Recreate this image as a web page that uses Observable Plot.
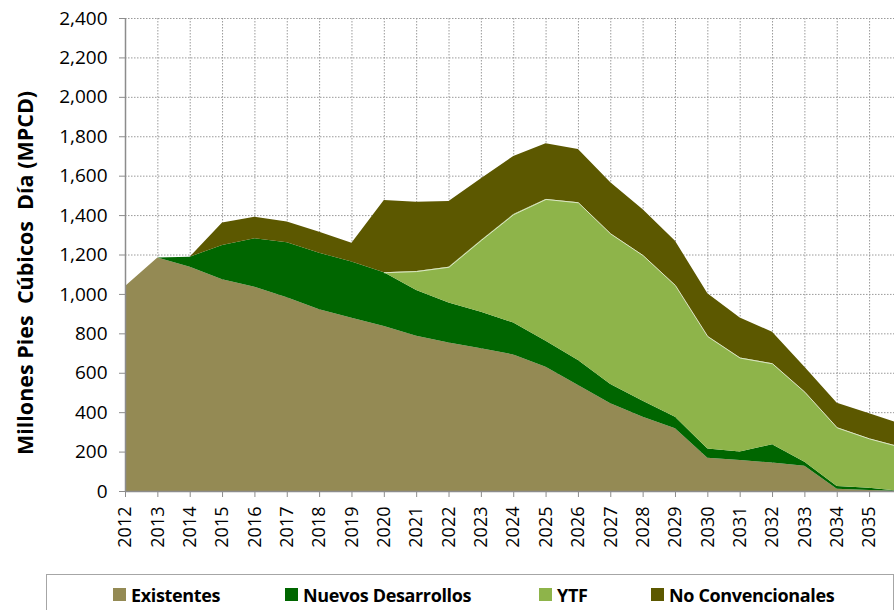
<!DOCTYPE html>
<html>
<head>
<meta charset="utf-8">
<script src="https://cdn.jsdelivr.net/npm/d3@7"></script>
<script src="https://cdn.jsdelivr.net/npm/@observablehq/plot@0.6"></script>
<style>
  body { margin: 0; background: #fff; font-family: "Open Sans", sans-serif; }
  #wrap { position: relative; width: 894px; height: 610px; overflow: hidden; background: #fff; }
  #chart { position: absolute; left: 0; top: 0; }
  #legend { position: absolute; left: 46px; top: 574px; width: 848px; height: 60px;
            border: 1.5px solid #a6a6a6; box-sizing: border-box; background: #fff; }
  .item { position: absolute; top: -1px; display: flex; align-items: center; height: 41px;
          font-family: "Open Sans", sans-serif; font-weight: bold; font-size: 18px; color: #000;
          white-space: nowrap; letter-spacing: -0.35px; }
  .sw { width: 13px; height: 13px; margin-right: 5px; flex: none; }
</style>
</head>
<body>
<div id="wrap">
  <div id="chart"></div>
  <div id="legend"></div>
</div>
<script>
// ---- data ----
const years = [2012,2013,2014,2015,2016,2017,2018,2019,2020,2021,2022,2023,2024,2025,2026,2027,2028,2029,2030,2031,2032,2033,2034,2035,2036];
const existentes = [1040,1185,1138,1074,1037,983,922,879,837,788,754,724,693,631,538,445,377,318,169,157,144,128,12,5,0];
const nuevosDesarrollos = [0,0,51,174,245,279,287,285,273,232,203,186,162,132,127,98,81,59,47,43,93,21,13,12,0];
const ytf = [0,0,0,0,0,0,0,0,0,96,181,364,550,719,800,764,739,668,570,477,411,355,298,250,223];
const noConvencionales = [0,0,0,115,110,105,107,96,367,352,333,313,295,282,270,259,232,225,217,203,160,127,125,127,117];
const seriesNames = ["Existentes", "Nuevos Desarrollos", "YTF", "No Convencionales"];
const seriesColors = ["#948A54", "#006600", "#8EB44A", "#5C5800"];
const xTicks = [2012,2013,2014,2015,2016,2017,2018,2019,2020,2021,2022,2023,2024,2025,2026,2027,2028,2029,2030,2031,2032,2033,2034,2035];
const yTicks = [0,200,400,600,800,1000,1200,1400,1600,1800,2000,2200,2400];
const yLabel = "Millones Pies\u00a0 Cúbicos\u00a0 Día (MPCD)";

// ---- table ----
const seriesValues = [existentes, nuevosDesarrollos, ytf, noConvencionales];
const table = [];
seriesNames.forEach((s, k) => years.forEach((yr, i) => table.push({year: yr, serie: s, value: seriesValues[k][i]})));
const ytfTop = years.map((yr, i) => ({year: yr, top: existentes[i] + nuevosDesarrollos[i] + ytf[i]}))
                    .filter(d => d.year >= 2020);

const chart = Plot.plot({
  width: 894,
  height: 570,
  marginLeft: 125,
  marginRight: 0,
  marginTop: 18,
  marginBottom: 79,
  style: { fontFamily: "'Open Sans', sans-serif", background: "#fff", overflow: "visible" },
  x: { domain: [2012, 2035.77] },
  y: { domain: [0, 2400] },
  color: { domain: seriesNames, range: seriesColors },
  marks: [
    Plot.gridY(yTicks.slice(1), { stroke: "#9a9a9a", strokeOpacity: 1, strokeWidth: 1, strokeDasharray: "1.5,1.5" }),
    Plot.gridX(xTicks.slice(1), { stroke: "#9a9a9a", strokeOpacity: 1, strokeWidth: 1, strokeDasharray: "1.5,1.5" }),
    Plot.areaY(table, { x: "year", y: "value", z: "serie", fill: "serie", order: seriesNames, clip: true, curve: "linear" }),
    Plot.lineY(ytfTop, { x: "year", y: "top", stroke: "#e4edd2", strokeWidth: 0.9, clip: true }),
    Plot.ruleX([2012], { stroke: "#8c8c8c", strokeWidth: 1.5 }),
    Plot.ruleY([0], { stroke: "#8c8c8c", strokeWidth: 1.5 }),
    Plot.axisY({ ticks: yTicks, tickFormat: d3.format(","), tickSize: 6, tickPadding: 12,
                 stroke: "#8c8c8c", fill: "#000", fontSize: 19, label: null }),
    Plot.axisX({ ticks: xTicks, tickFormat: d => String(d), tickSize: 6, tickPadding: 9, tickRotate: -90,
                 stroke: "#8c8c8c", fill: "#000", fontSize: 18, label: null }),
    Plot.text([yLabel], { text: d => d, frameAnchor: "left", rotate: -90, dx: -99, dy: 18,
                          fontSize: 21.5, fontWeight: "bold", fill: "#000", textAnchor: "middle" })
  ]
});
document.getElementById("chart").appendChild(chart);

// ---- legend ----
const legendLeft = [66, 238, 492, 604];
const legend = document.getElementById("legend");
seriesNames.forEach((s, k) => {
  const it = document.createElement("div");
  it.className = "item";
  it.style.left = legendLeft[k] + "px";
  const sw = document.createElement("span");
  sw.className = "sw";
  sw.style.background = seriesColors[k];
  const tx = document.createElement("span");
  tx.textContent = s;
  it.appendChild(sw);
  it.appendChild(tx);
  legend.appendChild(it);
});
</script>
</body>
</html>
